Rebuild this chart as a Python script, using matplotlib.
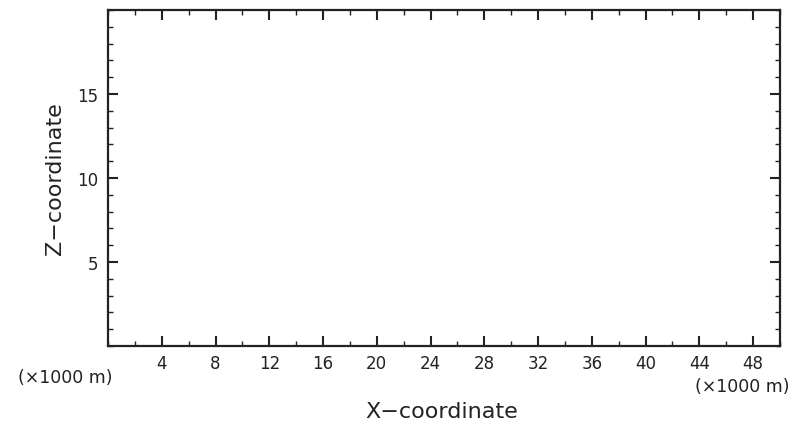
import numpy as np
import matplotlib.pyplot as plt
from matplotlib.ticker import MultipleLocator

# AXES DATA
x_range = [0, 50]
z_range = [0, 20]
x_ticks = [4, 8, 12, 16, 20, 24, 28, 32, 36, 40, 44, 48]
z_ticks = [5, 10, 15]
x_minor_step = 2
z_minor_step = 1
unit_label = "(\u00d71000 m)"

plt.rcParams["font.family"] = "DejaVu Sans"

fig = plt.figure(figsize=(7.96, 4.27), dpi=100)
ax = fig.add_axes([0.1357, 0.1874, 0.8442, 0.7868])

ax.set_xlim(x_range)
ax.set_ylim(z_range)
ax.set_xticks(x_ticks)
ax.set_yticks(z_ticks)
ax.xaxis.set_minor_locator(MultipleLocator(x_minor_step))
ax.yaxis.set_minor_locator(MultipleLocator(z_minor_step))

ax.tick_params(which="both", direction="in", top=True, right=True,
               color="#222222", labelsize=12, labelcolor="#222222")
ax.tick_params(which="major", length=7, width=1.5)
ax.tick_params(which="minor", length=3.5, width=1.0)
ax.tick_params(axis="x", pad=6)
ax.tick_params(axis="y", pad=7)

for s in ax.spines.values():
    s.set_linewidth(1.6)
    s.set_color("#222222")

ax.set_xlabel("X\u2212coordinate", fontsize=16, color="#222222")
ax.set_ylabel("Z\u2212coordinate", fontsize=16, color="#222222")
ax.xaxis.set_label_coords(0.497, -0.165)
ax.yaxis.set_label_coords(-0.064, 0.5)

fig.text(0.0826, 0.115, unit_label, fontsize=12.5, color="#222222",
         ha="center", va="center")
fig.text(0.932, 0.094, unit_label, fontsize=12.5, color="#222222",
         ha="center", va="center")

plt.savefig("out.png", dpi=100)
